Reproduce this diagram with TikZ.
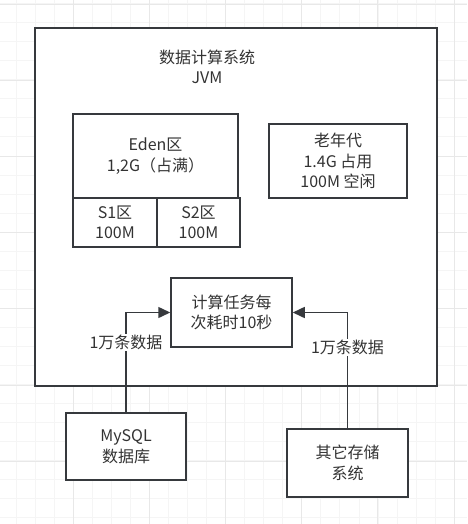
\documentclass[tikz,border=0pt]{standalone}
\usepackage{fontspec}
\setmainfont{Noto Sans CJK SC}
\usetikzlibrary{arrows.meta}
\definecolor{linegray}{HTML}{36393D}
\definecolor{textgray}{HTML}{333333}
\tikzset{
  box/.style={draw=linegray, line width=1.5pt, fill=white, align=center, inner sep=0pt},
  lbl/.style={font=\fontsize{16}{20.5}\selectfont, text=textgray, align=center},
  flow/.style={draw=linegray, line width=1.5pt, -{Triangle[length=12pt,width=11pt]}},
  minorgrid/.style={draw=gray!8, line width=0.8pt},
  majorgrid/.style={draw=gray!18, line width=0.8pt},
}
\begin{document}
\begin{tikzpicture}[x=1pt,y=-1pt]
    \useasboundingbox (0,0) rectangle (467,524);
    % Grid %
    \foreach \i in {0,...,24} \draw[minorgrid] ({16+19.05*\i},0) -- ({16+19.05*\i},524);
    \foreach \i in {0,...,27} \draw[minorgrid] (0,{3.5+19.05*\i}) -- (467,{3.5+19.05*\i});
    \foreach \i in {0,...,5} \draw[majorgrid] ({73+76.2*\i},0) -- ({73+76.2*\i},524);
    \foreach \i in {0,...,6} \draw[majorgrid] (0,{4+76.2*\i}) -- (467,{4+76.2*\i});

    % JVM %
    \node[box, minimum width=402pt, minimum height=358pt] (jvm) at (236,207) {};
    \node[lbl] (title) at (207,67) {数据计算系统\\JVM};
    \node[box, lbl, minimum width=165pt, minimum height=84pt] (eden) at (155.5,156) {Eden区\\1,2G（占满）};
    \node[box, lbl, minimum width=84pt, minimum height=49pt] (s1) at (115,222.5) {S1区\\100M};
    \node[box, lbl, minimum width=83pt, minimum height=49pt] (s2) at (198.5,222.5) {S2区\\100M};
    \node[box, lbl, minimum width=138pt, minimum height=74pt] (old) at (338,161) {老年代\\1.4G 占用\\100M 空闲};
    \node[box, lbl, minimum width=121pt, minimum height=69pt] (task) at (231.5,312.5) {计算任务每\\次耗时10秒};

    % Sources %
    \node[box, lbl, minimum width=120pt, minimum height=67pt] (mysql) at (126,446.5) {MySQL\\数据库};
    \node[box, lbl, minimum width=121pt, minimum height=68pt] (store) at (347.5,463) {其它存储\\系统};

    \draw[flow] (mysql.north) |- node[pos=0.35, fill=white, lbl, inner sep=1pt] {1万条数据} (task.west);
    \draw[flow] (store.north) |- node[pos=0.35, fill=white, lbl, inner sep=1pt] {1万条数据} (task.east);
\end{tikzpicture}
\end{document}
